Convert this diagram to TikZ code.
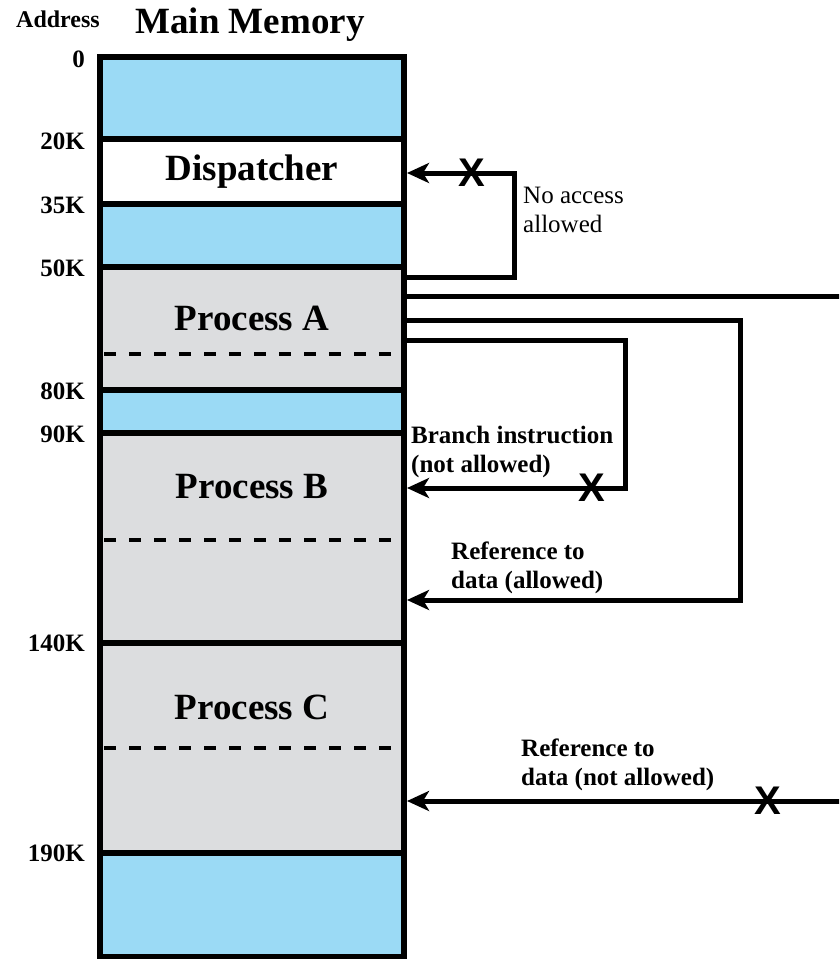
\documentclass[tikz,border=0pt]{standalone}
\usepackage{fontspec}
\setmainfont{LiberationSerif}[Extension=.ttf, UprightFont=*-Regular, BoldFont=*-Bold]
\setsansfont{LiberationSans}[Extension=.ttf, UprightFont=*-Regular, BoldFont=*-Bold]
\usetikzlibrary{arrows.meta}
\definecolor{freeblue}{RGB}{155,218,245}
\definecolor{procgray}{RGB}{220,221,223}

\begin{document}
\begin{tikzpicture}[x=1pt, y=-1pt,
    block/.style = {draw, line width=6pt, minimum width=304pt, inner sep=0pt},
    free/.style = {block, fill=freeblue},
    proc/.style = {block, fill=procgray},
    big/.style = {font=\fontsize{37}{40}\selectfont\bfseries},
    addr/.style = {anchor=east, inner sep=0pt, font=\fontsize{25}{28}\selectfont\bfseries},
    note/.style = {anchor=west, align=left, inner sep=0pt, font=\fontsize{25}{29}\selectfont\bfseries},
    boundary/.style = {line width=4pt, dash pattern=on 12pt off 13pt},
    link/.style = {line width=5pt, ->},
    cross/.style = {inner sep=0pt, font=\fontsize{40}{40}\selectfont\sffamily\bfseries},
    >={Stealth[length=22pt, width=20pt, inset=6pt]}]
    \useasboundingbox (0, 0) rectangle (839, 959);
    \clip (0, 0) rectangle (839, 959);
    \node[anchor = base east, inner sep = 0pt, font = \fontsize{24}{26}\selectfont\bfseries] (address) at (100, 27) {Address};
    \node[anchor = base, inner sep = 0pt, big] (main memory) at (250, 33) {Main Memory};
    \node[free, minimum height = 82pt] (free top) at (252, 98) {};
    \node[block, fill = white, minimum height = 65pt, big] (dispatcher) at (252, 171.5) {Dispatcher};
    \node[free, minimum height = 63pt] (free upper) at (252, 235.5) {};
    \node[proc, minimum height = 123pt] (process a) at (252, 328.5) {};
    \node[free, minimum height = 43pt] (free middle) at (252, 411.5) {};
    \node[proc, minimum height = 210pt] (process b) at (252, 538) {};
    \node[proc, minimum height = 210pt] (process c) at (252, 748) {};
    \node[free, minimum height = 104pt] (free bottom) at (252, 905) {};
    \node[big] (process a label) at (252, 318) {Process A};
    \node[big] (process b label) at (252, 487) {Process B};
    \node[big] (process c label) at (252, 707) {Process C};
    \draw[boundary] (104, 354) -- (392, 354);
    \draw[boundary] (104, 540) -- (392, 540);
    \draw[boundary] (104, 748) -- (392, 748);
    \node[addr] (addr 0) at (85, 59) {0};
    \node[addr] (addr 20k) at (85, 141) {20K};
    \node[addr] (addr 35k) at (85, 205) {35K};
    \node[addr] (addr 50k) at (85, 268) {50K};
    \node[addr] (addr 80k) at (85, 391) {80K};
    \node[addr] (addr 90k) at (85, 434) {90K};
    \node[addr] (addr 140k) at (85, 643) {140K};
    \node[addr] (addr 190k) at (85, 853) {190K};
    \draw[link] (process a.east |- 0, 277) -| (514, 173) -- (dispatcher.east |- 0, 173);
    \draw[link] (process a.east |- 0, 340) -| (625, 488) -- (process b.east |- 0, 488);
    \draw[link] (process a.east |- 0, 320) -| (740, 600) -- (process b.east |- 0, 600);
    \draw[link] (process a.east |- 0, 296) -| (880, 801) -- (process c.east |- 0, 801);
    \node[cross] (no dispatcher) at (472, 173) {X};
    \node[cross] (no branch) at (592, 488) {X};
    \node[cross] (no data) at (768, 801) {X};
    \node[note, font = \fontsize{25}{29}\selectfont] (no access) at (523, 210) {No access \\ allowed};
    \node[note] (branch instruction) at (411, 452) {Branch instruction \\ (not allowed)};
    \node[note] (data allowed) at (451, 568) {Reference to \\ data (allowed)};
    \node[note] (data not allowed) at (521, 765) {Reference to \\ data (not allowed)};
  \end{tikzpicture}
\end{document}
